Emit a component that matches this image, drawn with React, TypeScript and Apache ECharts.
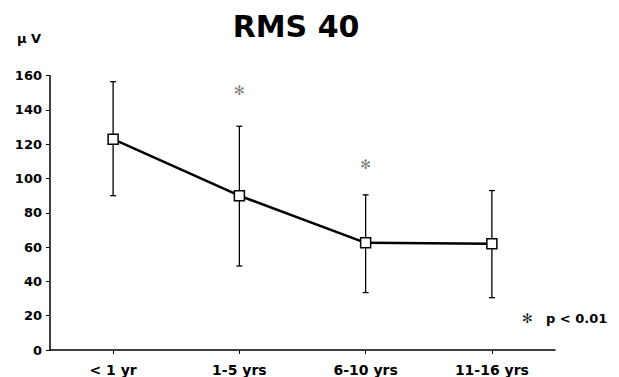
import React, { useEffect, useRef } from "react";
import * as echarts from "echarts";

const categories = ["< 1 yr", "1-5 yrs", "6-10 yrs", "11-16 yrs"];
const means = [123, 90, 62.5, 62];
const upper = [156.5, 130.5, 90.5, 93];
const lower = [90, 49, 33.5, 30.5];
const starValues: (number | null)[] = [null, 151.5, 108, null];
const yTicks = [0, 20, 40, 60, 80, 100, 120, 140, 160];

const FONT = "DejaVu Sans";
const STAR = "\u273B";

export default function App() {
  const ref = useRef<HTMLDivElement>(null);
  useEffect(() => {
    const chart = echarts.init(ref.current!, null, { renderer: "svg" });
    const errData = categories.map((_, i) => [i, lower[i], upper[i]]);
    const starData = starValues
      .map((v, i) => (v == null ? null : [i, v]))
      .filter((d) => d != null);
    chart.setOption({
      animation: false,
      backgroundColor: "#ffffff",
      title: {
        text: "RMS 40",
        left: 291,
        top: 6,
        textAlign: "center",
        textStyle: { fontFamily: FONT, fontWeight: "bold", fontSize: 30, color: "#000" },
      },
      grid: { left: 50, right: 64, top: 75.7, bottom: 27 },
      xAxis: {
        type: "category",
        data: categories,
        boundaryGap: true,
        axisLine: { lineStyle: { color: "#000", width: 1.5 } },
        axisTick: { show: true, alignWithLabel: true, length: 4, lineStyle: { color: "#000" } },
        axisLabel: { fontFamily: FONT, fontWeight: "bold", fontSize: 14, color: "#000", margin: 13 },
        splitLine: { show: false },
      },
      yAxis: {
        type: "value",
        min: 0,
        max: yTicks[yTicks.length - 1],
        interval: 20,
        axisLine: { show: true, lineStyle: { color: "#000", width: 1.5 } },
        axisTick: { show: true, length: 4, lineStyle: { color: "#000" } },
        axisLabel: { fontFamily: FONT, fontWeight: "bold", fontSize: 13, color: "#000", margin: 8 },
        splitLine: { show: false },
      },
      graphic: [
        {
          type: "text",
          left: 17,
          top: 32,
          style: { text: "μ V", fontFamily: FONT, fontSize: 13, fontWeight: "bold", fill: "#000" },
        },
        {
          type: "text",
          left: 522,
          top: 312,
          style: { text: STAR, fontFamily: FONT, fontSize: 13, fill: "#222" },
        },
        {
          type: "text",
          left: 546,
          top: 312,
          style: { text: "p < 0.01", fontFamily: FONT, fontSize: 13, fontWeight: "bold", fill: "#000" },
        },
      ],
      series: [
        {
          type: "custom",
          data: errData,
          z: 1,
          renderItem: (params: any, api: any) => {
            const x = api.value(0);
            const lo = api.coord([x, api.value(1)]);
            const hi = api.coord([x, api.value(2)]);
            const cw = 3;
            const style = { stroke: "#000", lineWidth: 1.3 };
            return {
              type: "group",
              children: [
                { type: "line", shape: { x1: lo[0], y1: lo[1], x2: hi[0], y2: hi[1] }, style },
                { type: "line", shape: { x1: hi[0] - cw, y1: hi[1], x2: hi[0] + cw, y2: hi[1] }, style },
                { type: "line", shape: { x1: lo[0] - cw, y1: lo[1], x2: lo[0] + cw, y2: lo[1] }, style },
              ],
            };
          },
        },
        {
          type: "line",
          data: means,
          z: 3,
          symbol: "rect",
          symbolSize: 10,
          lineStyle: { color: "#000", width: 2.5 },
          itemStyle: { color: "#fff", borderColor: "#000", borderWidth: 1.5 },
        },
        {
          type: "scatter",
          data: starData,
          symbolSize: 0,
          label: {
            show: true,
            position: "inside",
            formatter: STAR,
            fontFamily: FONT,
            fontSize: 13,
            color: "#555",
          },
        },
      ],
    });
    return () => chart.dispose();
  }, []);
  return (
    <div
      ref={ref}
      style={{ position: "fixed", left: 0, top: 0, width: 619, height: 377 }}
    />
  );
}
